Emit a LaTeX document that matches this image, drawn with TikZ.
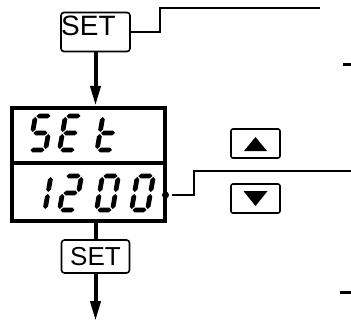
\documentclass[tikz,border=0pt]{standalone}
\usepackage{fontspec}
\newfontfamily\keyfont{Liberation Sans}
\usetikzlibrary{arrows.meta,calc}
\tikzset{
  keybox/.style ={draw,rounded corners=3pt,line width=1.6pt,inner sep=0pt},
  keylbl/.style ={font=\keyfont\fontsize{28pt}{30pt}\selectfont,inner sep=0pt},
  lcd/.style    ={draw,line width=4.5pt,minimum width=153pt,inner sep=0pt},
  btn/.style    ={draw,rounded corners=2pt,line width=1.6pt,minimum width=49pt,minimum height=29pt,inner sep=0pt},
  flow/.style   ={line width=4pt},
  flowarr/.style={flow,-{Triangle[length=20pt,width=10pt]}},
  lead/.style   ={line width=1.8pt},
  tick/.style   ={line width=3pt},
}
% seven segment digits
\newcommand{\segW}{16}
\newcommand{\segH}{34}
\newcommand{\segM}{17}
\newcommand{\segHalf}{2.4}
\newcommand{\segGap}{1.0}
\newcommand{\hseg}[1]{\fill (\segGap,#1) -- ++(\segHalf,\segHalf) -- (\segW-\segGap-\segHalf,#1+\segHalf) -- (\segW-\segGap,#1) -- (\segW-\segGap-\segHalf,#1-\segHalf) -- (\segGap+\segHalf,#1-\segHalf) -- cycle;}
\newcommand{\vseg}[3]{\fill (#1,#2+\segGap) -- ++(\segHalf,\segHalf) -- (#1+\segHalf,#3-\segGap-\segHalf) -- (#1,#3-\segGap) -- (#1-\segHalf,#3-\segGap-\segHalf) -- (#1-\segHalf,#2+\segGap+\segHalf) -- cycle;}
\newcommand{\segA}{\hseg{\segH}}
\newcommand{\segB}{\vseg{\segW}{\segM}{\segH}}
\newcommand{\segC}{\vseg{\segW}{0}{\segM}}
\newcommand{\segD}{\hseg{0}}
\newcommand{\segE}{\vseg{0}{0}{\segM}}
\newcommand{\segF}{\vseg{0}{\segM}{\segH}}
\newcommand{\segG}{\hseg{\segM}}
\newcommand{\lcddigit}[3]{%
  \begin{scope}[shift={(#1,#2)},xslant=0.176,yscale=-1]
    \foreach \s in {#3} {\csname seg\s\endcsname}
  \end{scope}}

\begin{document}
\begin{tikzpicture}[x=1pt,y=-1pt]
  \useasboundingbox (0,0) rectangle (351,327);
  % SET key on top
  \node[keybox,minimum width=69pt,minimum height=39pt] (set1) at (95.5,32) {};
  \node[keylbl,anchor=base west] (set1lbl) at (61,35) {SET};
  \coordinate (tlead) at (320,8);
  \draw[lead] (set1.east) -| (160,8) -- (tlead);
  % display
  \node[lcd,minimum height=55pt] (row1) at (88.5,135.5) {};
  \node[lcd,minimum height=58pt] (row2) at (88.5,192) {};
  \draw[flowarr] (set1.south) -- (set1.south |- row1.north);
  \lcddigit{29.5}{150}{A,F,G,C,D}
  \lcddigit{59.5}{150}{A,F,G,E,D}
  \lcddigit{97}{150}{F,E,G,D}
  \lcddigit{29}{210}{B,C}
  \lcddigit{59.5}{210}{A,B,G,E,D}
  \lcddigit{96.5}{210}{A,B,C,D,E,F}
  \lcddigit{131.5}{210}{A,B,C,D,E,F}
  % value lead and keys
  \node[circle,fill,minimum size=7pt,inner sep=0pt] (dot) at (165.5,195) {};
  \coordinate (rlead) at (351,171);
  \draw[lead] ($(dot.east)+(2.5,0)$) -| (194,171) -- (rlead);
  \node[btn] (up) at (255.5,143.5) {};
  \fill ($(up.center)+(0,-6.5)$) -- ($(up.center)+(11.5,7.5)$) -- ($(up.center)+(-11.5,7.5)$) -- cycle;
  \node[btn] (down) at (255.5,198.5) {};
  \fill ($(down.center)+(0,7.5)$) -- ($(down.center)+(12,-7.5)$) -- ($(down.center)+(-12,-7.5)$) -- cycle;
  % SET key below
  \node[keybox,minimum width=68pt,minimum height=33pt,keylbl,font=\keyfont\fontsize{26pt}{28pt}\selectfont] (set2) at (95.5,256.5) {SET};
  \draw[flow] (set2.north |- row2.south) -- (set2.north);
  \coordinate (end) at (95.5,321);
  \draw[flowarr] (set2.south) -- (end);
  % ticks on the right
  \coordinate (tick1) at (343,64);
  \coordinate (tick2) at (340,292);
  \draw[tick] (tick1) -- ++(8,0);
  \draw[tick] (tick2) -- ++(11,0);
\end{tikzpicture}
\end{document}
